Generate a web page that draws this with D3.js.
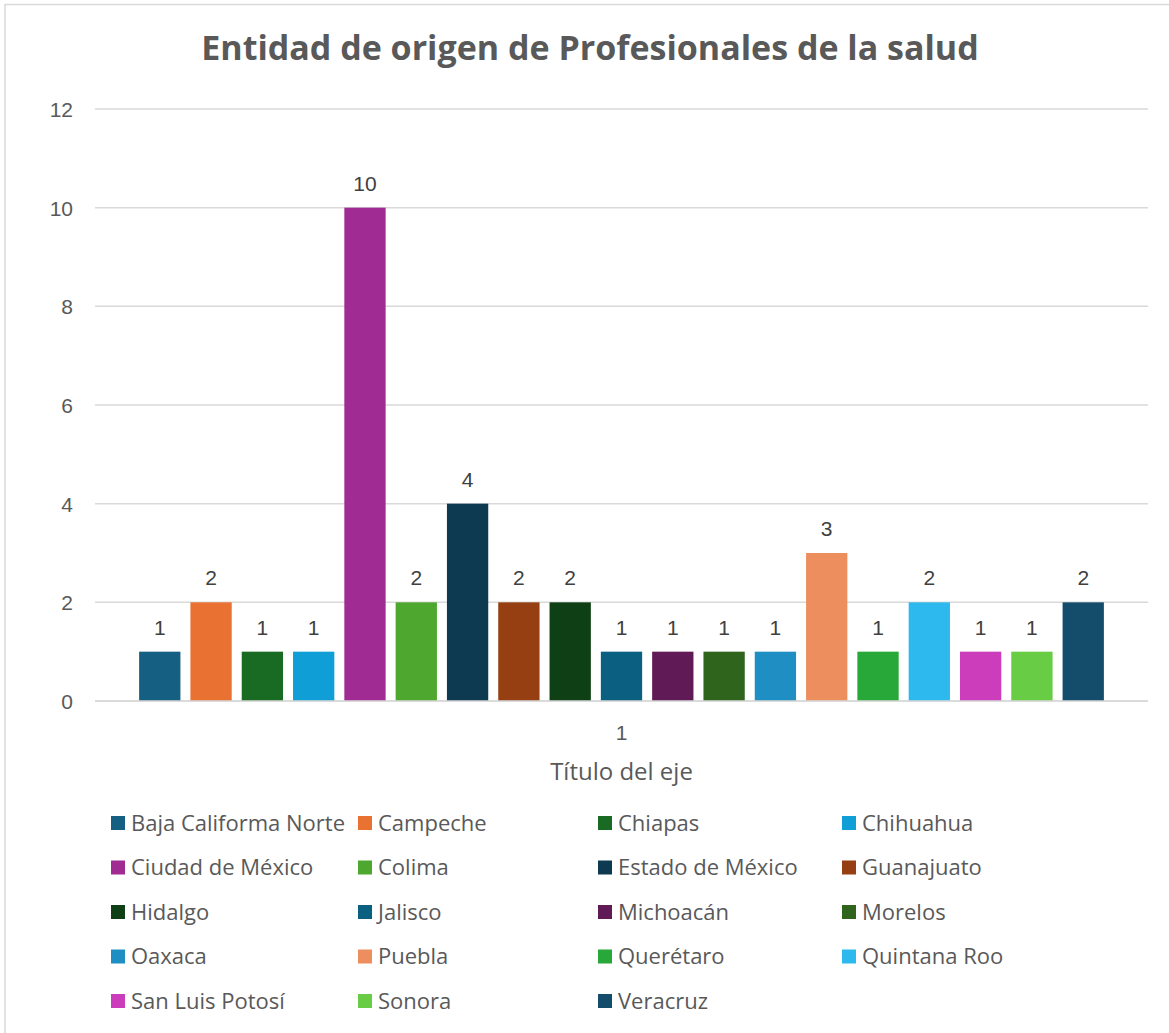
<!DOCTYPE html>
<html>
<head>
<meta charset="utf-8">
<script src="https://cdn.jsdelivr.net/npm/d3@7"></script>
<style>
  html, body { margin: 0; padding: 0; background: #fff; }
  svg { display: block; }
</style>
</head>
<body>
<svg id="chart" width="1169" height="1033"></svg>
<script>
const title = "Entidad de origen de Profesionales de la salud";
const categories = ["Baja Califorma Norte","Campeche","Chiapas","Chihuahua","Ciudad de México","Colima","Estado de México","Guanajuato","Hidalgo","Jalisco","Michoacán","Morelos","Oaxaca","Puebla","Querétaro","Quintana Roo","San Luis Potosí","Sonora","Veracruz"];
const values = [1,2,1,1,10,2,4,2,2,1,1,1,1,3,1,2,1,1,2];
const colors = ["#156082","#E97132","#196B24","#0F9ED5","#A02B93","#4EA72E","#0E3A51","#963F12","#0F4015","#0B5F80","#601A55","#2F641D","#1F8FC3","#ED8E5F","#28A838","#2EB9EE","#CB3DBA","#69CC45","#144D6C"];
const yTicks = [0,2,4,6,8,10,12];
const xCategoryLabel = "1";
const xAxisTitle = "Título del eje";

const svg = d3.select("#chart");
const textColor = "#595959";
const openSans = "'Open Sans', 'Liberation Sans', Arial, sans-serif";
const arial = "'Liberation Sans', Arial, sans-serif";

// chart border
svg.append("rect").attr("x",5).attr("y",4.5).attr("width",1200).attr("height",1100)
  .attr("fill","none").attr("stroke","#d9d9d9").attr("stroke-width",1.5);

// title
svg.append("text").attr("x",590).attr("y",60).attr("text-anchor","middle")
  .style("font-family",openSans)
  .attr("font-size",34).attr("font-weight","bold").attr("fill",textColor).text(title);

const plotLeft = 95, plotRight = 1148, plotTop = 109, plotBottom = 701;
const y = d3.scaleLinear().domain([0,12]).range([plotBottom, plotTop]);
const x = d3.scaleBand().domain(categories).range([plotLeft, plotRight]).paddingInner(0.195).paddingOuter(0.86);

// gridlines
svg.append("g").selectAll("line").data(yTicks).join("line")
  .attr("x1",plotLeft).attr("x2",plotRight)
  .attr("y1",d=>y(d)).attr("y2",d=>y(d))
  .attr("stroke","#d9d9d9").attr("stroke-width",1.5);

// y axis labels
const yAxis = d3.axisLeft(y).tickValues(yTicks).tickSize(0).tickPadding(0);
const gy = svg.append("g").attr("transform",`translate(73,0)`).call(yAxis);
gy.select(".domain").remove();
gy.attr("font-size",null).attr("font-family",null);
gy.selectAll("text").style("font-size","21px").attr("fill",textColor)
  .style("font-family",arial).attr("dy","0.35em");

// bars
svg.append("g").selectAll("rect").data(categories).join("rect")
  .attr("x",d=>x(d)).attr("width",x.bandwidth())
  .attr("y",(d,i)=>y(values[i])).attr("height",(d,i)=>y(0)-y(values[i]))
  .attr("fill",(d,i)=>colors[i]);

// redraw zero line on top
svg.append("line").attr("x1",plotLeft).attr("x2",plotRight).attr("y1",y(0)).attr("y2",y(0))
  .attr("stroke","#d9d9d9").attr("stroke-width",1.5);

// data labels
svg.append("g").selectAll("text").data(categories).join("text")
  .attr("x",d=>x(d)+x.bandwidth()/2).attr("y",(d,i)=>y(values[i])-17)
  .attr("text-anchor","middle").attr("font-size",21).attr("fill","#404040")
  .style("font-family",arial)
  .text((d,i)=>values[i]);

// x category label and axis title
svg.append("text").attr("x",(plotLeft+plotRight)/2).attr("y",740).attr("text-anchor","middle")
  .style("font-family",arial)
  .attr("font-size",21).attr("fill",textColor).text(xCategoryLabel);
svg.append("text").attr("x",(plotLeft+plotRight)/2).attr("y",780).attr("text-anchor","middle")
  .style("font-family",openSans)
  .attr("font-size",24).attr("fill",textColor).text(xAxisTitle);

// legend
const colX = [111, 358, 598, 842];
const rowY = [823, 867.5, 912, 956.5, 1001];
const lg = svg.append("g").selectAll("g").data(categories).join("g")
  .attr("transform",(d,i)=>`translate(${colX[i%4]},${rowY[Math.floor(i/4)]})`);
lg.append("rect").attr("x",0).attr("y",-7).attr("width",14).attr("height",14).attr("fill",(d,i)=>colors[i]);
lg.append("text").attr("x",20).attr("y",0).attr("dy","0.35em").attr("font-size",22)
  .style("font-family",openSans)
  .attr("fill",textColor).text(d=>d);
</script>
</body>
</html>
